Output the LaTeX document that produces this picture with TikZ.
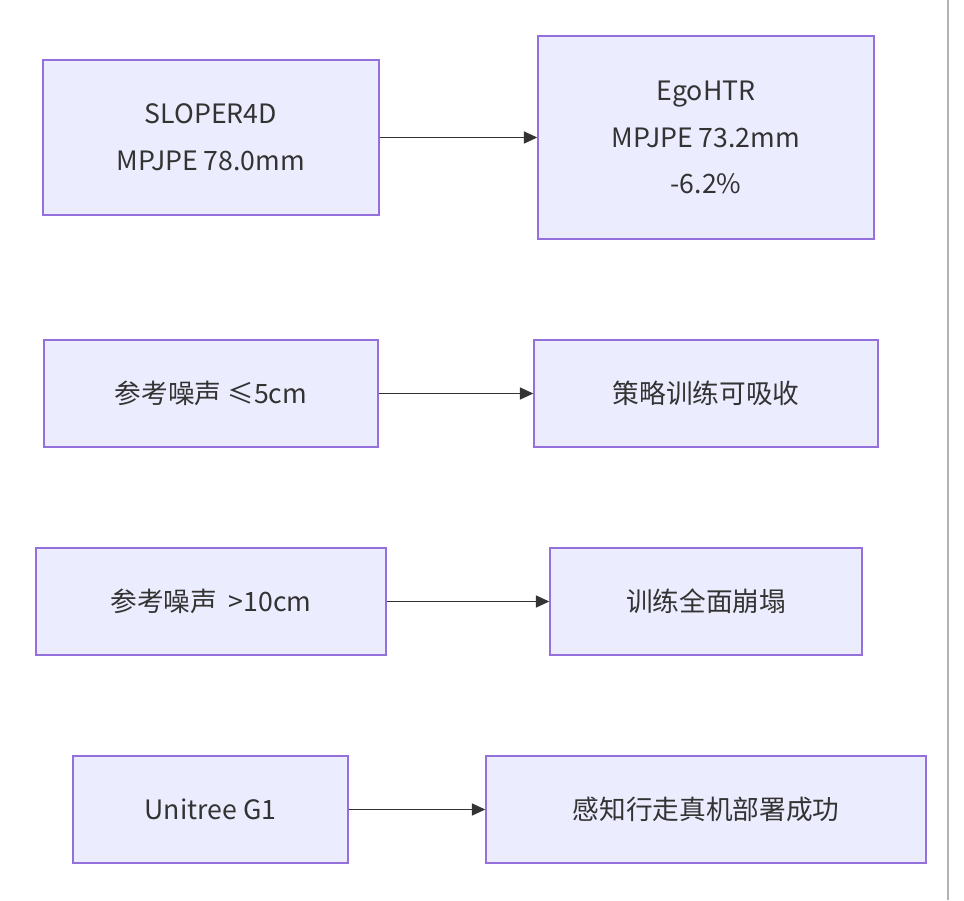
\documentclass[tikz,border=0pt]{standalone}
\usepackage{fontspec}
\setmainfont{Noto Sans CJK SC}
\usetikzlibrary{arrows.meta}
\definecolor{boxfill}{HTML}{ECECFF}
\definecolor{boxline}{HTML}{9370DB}
\definecolor{arrowc}{HTML}{333333}
\tikzset{
  box/.style={draw=boxline, fill=boxfill, line width=1.1pt, align=center,
    inner sep=0pt, font=\fontsize{20}{35}\selectfont, text=arrowc},
  flow/.style={draw=arrowc, line width=1.1pt, -{Triangle[length=10pt,width=9pt]}}
}
\begin{document}
\begin{tikzpicture}[x=0.75pt,y=-0.75pt]
    \useasboundingbox[fill=white] (0,0) rectangle (964,900);
    \draw[gray!60, line width=1pt] (948,0) -- (948,900);
    % row 1
    \node[box, minimum width=336*0.75pt, minimum height=155*0.75pt] (sloper) at (211,137.5) {SLOPER4D\\MPJPE 78.0mm};
    \node[box, minimum width=336*0.75pt, minimum height=203*0.75pt] (ego) at (706,137.5) {EgoHTR\\MPJPE 73.2mm\\-6.2\%};
    % row 2
    \node[box, minimum width=334*0.75pt, minimum height=107*0.75pt] (noiselow) at (211,393.5) {参考噪声 ≤5cm};
    \node[box, minimum width=344*0.75pt, minimum height=107*0.75pt] (absorb) at (706,393.5) {策略训练可吸收};
    % row 3
    \node[box, minimum width=350*0.75pt, minimum height=107*0.75pt] (noisehigh) at (211,601.5) {参考噪声\ \ >10cm};
    \node[box, minimum width=312*0.75pt, minimum height=107*0.75pt] (collapse) at (706,601.5) {训练全面崩塌};
    % row 4
    \node[box, minimum width=275*0.75pt, minimum height=107*0.75pt] (robot) at (210.5,809.5) {Unitree G1};
    \node[box, minimum width=440*0.75pt, minimum height=107*0.75pt] (deploy) at (706,809.5) {感知行走真机部署成功};

    \draw[flow] (sloper) -- (ego);
    \draw[flow] (noiselow) -- (absorb);
    \draw[flow] (noisehigh) -- (collapse);
    \draw[flow] (robot) -- (deploy);
\end{tikzpicture}
\end{document}
